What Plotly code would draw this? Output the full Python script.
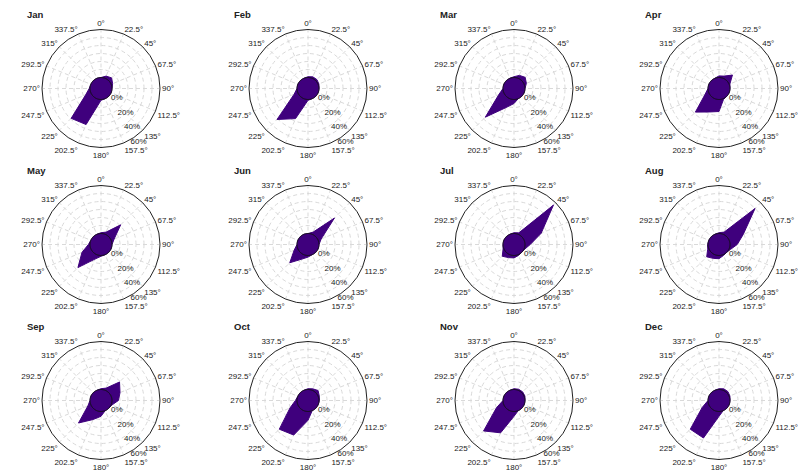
import numpy as np
import plotly.graph_objects as go

MONTHS = ["Jan", "Feb", "Mar", "Apr", "May", "Jun",
          "Jul", "Aug", "Sep", "Oct", "Nov", "Dec"]

DIRECTIONS = [0, 22.5, 45, 67.5, 90, 112.5, 135, 157.5,
              180, 202.5, 225, 247.5, 270, 292.5, 315, 337.5]
DIR_LABELS = ["0°", "22.5°", "45°", "67.5°", "90°", "112.5°", "135°", "157.5°",
              "180°", "202.5°", "225°", "247.5°", "270°", "292.5°", "315°", "337.5°"]

RADIAL_TICKS = [0, 10, 20, 30, 40, 50, 60]
RADIAL_LABELS = ["0%", "", "20%", "", "40%", "", "60%"]

# frequency (%) per direction, in DIRECTIONS order
jan = [0, 3, 5, 2, 0, 0, 0, 0, 1, 35, 39, 7, 1, 0, 0, 0]
feb = [1, 2, 2, 1, 0, 0, 0, 0, 1, 27, 41, 5, 0, 0, 0, 0]
mar = [1, 4, 6, 3, 0, 0, 0, 0, 5, 12, 37, 7, 0, 0, 0, 0]
apr = [2, 3, 10, 1, 0, 0, 0, 1, 15, 18, 28, 5, 0, 0, 0, 0]
may = [1, 3, 21, 4, 0, 0, 0, 0, 1, 6, 27, 12, 2, 0, 0, 0]
jun = [0, 3, 33, 4, 0, 0, 0, 0, 2, 6, 18.5, 5, 0, 0, 0, 0]
jul = [1, 2, 56, 23, 6.5, 1, 0, 1, 3, 4, 7, 1, 0, 0, 0, 0]
aug = [1, 3, 50, 19, 9, 2, 0, 1, 4, 5, 8, 1.5, 0.5, 0, 0, 0]
sep = [1, 3, 19, 12, 8, 1, 0, 0, 6, 12, 26, 4, 0, 0, 0, 0]
oct_ = [1, 2, 4, 1.5, 0.5, 0, 0, 0, 11, 33, 37, 10.6, 2, 0, 0, 0]
nov = [1, 1.5, 1.5, 1, 0, 0, 0, 0, 6, 30, 40, 10, 0, 0, 0, 0]
dec = [1, 2, 2, 1, 0, 0, 0, 0, 6, 37, 37, 9, 0, 0, 0, 0]

SERIES = [jan, feb, mar, apr, may, jun, jul, aug, sep, oct_, nov, dec]

# page body has an 8px default margin; figure coordinates are page - 8
W, H = 798, 467
COL_CX = [93, 300, 506, 711]
ROW_CY = [80.5, 236.5, 392.5]
RAD = 59
FILL = "#3f007d"
GRID = "#d9d9d9"
FONT = "Liberation Sans"
TXT = "#222222"
RAD_ANGLE = -66

fig = go.Figure()
layout_polars = {}
annotations = []

ring_theta = np.linspace(0, 360, 145)

for i, (name, vals) in enumerate(zip(MONTHS, SERIES)):
    row, col = divmod(i, 4)
    cx, cy = COL_CX[col], ROW_CY[row]
    key = "polar" if i == 0 else f"polar{i+1}"
    fig.add_trace(go.Scatterpolar(
        r=list(vals) + [vals[0]],
        theta=DIRECTIONS + [DIRECTIONS[0]],
        mode="lines", fill="toself", fillcolor=FILL,
        line=dict(color=FILL, width=1),
        subplot=key, showlegend=False, hoverinfo="skip"))
    fig.add_trace(go.Scatterpolar(
        r=np.zeros_like(ring_theta), theta=ring_theta,
        mode="lines", line=dict(color="#111111", width=1),
        subplot=key, showlegend=False, hoverinfo="skip"))
    layout_polars[key] = dict(
        domain=dict(x=[(cx - RAD) / W, (cx + RAD) / W],
                    y=[1 - (cy + RAD) / H, 1 - (cy - RAD) / H]),
        bgcolor="white",
        angularaxis=dict(rotation=90, direction="clockwise",
                         tickmode="array", tickvals=DIRECTIONS, ticktext=DIR_LABELS,
                         showline=True, linecolor="#222222", linewidth=1,
                         showgrid=True, gridcolor=GRID, griddash="4px,3px", gridwidth=1,
                         ticks="", tickfont=dict(size=8, color=TXT, family=FONT)),
        radialaxis=dict(range=[-13.75, 60], tickmode="array",
                        tickvals=RADIAL_TICKS, ticktext=RADIAL_LABELS,
                        angle=RAD_ANGLE, tickangle=RAD_ANGLE, side="counterclockwise",
                        showline=False,
                        showgrid=True, gridcolor=GRID, griddash="4px,3px", gridwidth=1,
                        ticks="", tickfont=dict(size=8, color=TXT, family=FONT)),
    )
    annotations.append(dict(
        text=f"<b>{name}</b>", xref="paper", yref="paper",
        x=(cx - 76) / W, y=1 - (cy - 74) / H, xanchor="left", yanchor="middle",
        showarrow=False, font=dict(size=9.5, color=TXT, family=FONT)))

fig.update_layout(
    width=W, height=H,
    margin=dict(l=0, r=0, t=0, b=0),
    paper_bgcolor="white", plot_bgcolor="white",
    annotations=annotations,
    **layout_polars,
)

fig.write_html("out.html")
